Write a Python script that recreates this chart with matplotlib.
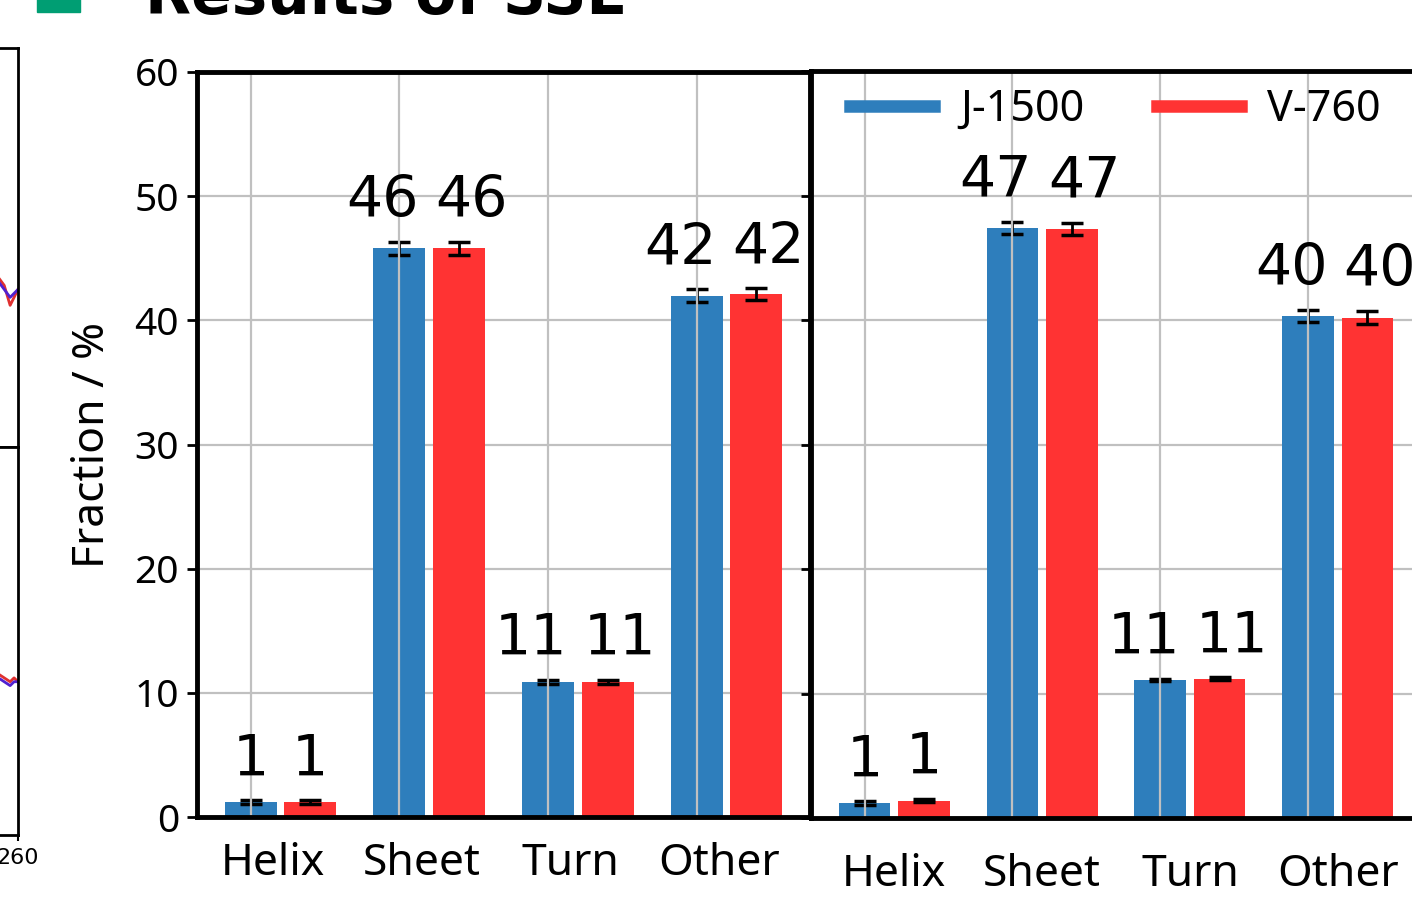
import matplotlib
matplotlib.use('Agg')
import matplotlib.pyplot as plt
import numpy as np
from matplotlib.lines import Line2D
from matplotlib.patches import Rectangle

plt.rcParams['font.family'] = ['Noto Sans', 'DejaVu Sans']

# ---------------- data ----------------
categories = ['Helix', 'Sheet', 'Turn', 'Other']
series_names = ['J-1500', 'V-760']

left_j1500 = [1.2, 45.8, 10.9, 42.0]
left_v760 = [1.2, 45.8, 10.9, 42.1]
left_j1500_err = [0.15, 0.5, 0.15, 0.5]
left_v760_err = [0.15, 0.5, 0.15, 0.5]

right_j1500 = [1.2, 47.4, 11.1, 40.3]
right_v760 = [1.4, 47.3, 11.2, 40.2]
right_j1500_err = [0.15, 0.5, 0.1, 0.5]
right_v760_err = [0.15, 0.5, 0.1, 0.5]

yticks = [0, 10, 20, 30, 40, 50, 60]
ylabel = 'Fraction / %'
title_text = 'Results of SSE'

# partial spectra visible at the left edge (cut off)
spec_wl = [250, 253, 256, 258, 260]
spec_top_a = [0.3, 0.1, -0.4, -0.2, 0.0]
spec_top_b = [0.2, 0.0, -0.2, -0.1, 0.0]
spec_bot_a = [0.2, 0.1, 0.0, 0.1, 0.0]
spec_bot_b = [0.1, 0.0, -0.1, 0.0, 0.0]

BLUE = '#2E7EBC'
RED = '#FF3333'
GRID = '#c0c0c0'

W, H = 1412, 901
fig = plt.figure(figsize=(W / 100, H / 100), dpi=100)


def fx(px):
    return px / W


def fy(py):
    return 1 - py / H


def draw_panel(ax, j, v, je, ve, show_ylabels, xlabel_pad, label_shift):
    x = np.arange(len(categories))
    width = 0.35
    off = 0.4
    ekw = dict(elinewidth=2.0, capthick=2.5, ecolor='black')
    ax.bar(x, j, width, yerr=je, color=BLUE, capsize=8, error_kw=ekw,
           zorder=2, label=series_names[0])
    ax.bar(x + off, v, width, yerr=ve, color=RED, capsize=8, error_kw=ekw,
           zorder=2, label=series_names[1])
    ax.set_ylim(yticks[0], yticks[-1])
    ax.set_yticks(yticks)
    ax.yaxis.grid(True, color=GRID, lw=1.6)
    ax.set_axisbelow(True)
    ax.vlines(x, yticks[0], yticks[-1], colors=GRID, lw=1.6, zorder=2.5)
    ax.set_xticks(x + off / 2 + label_shift)
    ax.set_xticklabels(categories, fontsize=32)
    ax.tick_params(axis='x', length=0, pad=xlabel_pad)
    ax.tick_params(axis='y', length=7, width=2, labelsize=28, pad=6,
                   labelleft=show_ylabels)
    for s in ax.spines.values():
        s.set_linewidth(3.5)
    for xs, vals, errs, dx in ((x, j, je, -12), (x + off, v, ve, 9)):
        for xc, val, e in zip(xs, vals, errs):
            lab = f'{val:.0f}'
            shift = dx if len(lab) > 1 else 0
            ax.annotate(lab, xy=(xc, val + e), xytext=(shift, 18),
                        textcoords='offset points', ha='center',
                        va='baseline', fontsize=41, family='DejaVu Sans',
                        zorder=4)


# left panel
ax1 = fig.add_axes([fx(197), fy(817), fx(810) - fx(197), fy(72) - fy(817)])
draw_panel(ax1, left_j1500, left_v760, left_j1500_err, left_v760_err,
           True, 18, -0.05)
ax1.set_ylabel(ylabel, fontsize=32, labelpad=14)

# right panel (extends beyond the image edge)
ax2 = fig.add_axes([fx(811), fy(818), fx(1421) - fx(811), fy(71) - fy(818)])
draw_panel(ax2, right_j1500, right_v760, right_j1500_err, right_v760_err,
           False, 25, 0.0)
handles = [Line2D([0], [0], color=BLUE, lw=9), Line2D([0], [0], color=RED, lw=9)]
ax2.legend(handles, series_names, loc='upper left', ncol=2, frameon=False,
           fontsize=31, handlelength=1.95, handletextpad=0.6,
           columnspacing=1.7, borderaxespad=0.0, bbox_to_anchor=(0.036, 1.0))

# cut-off spectra panels on the far left
axa = fig.add_axes([fx(-100), fy(447), fx(18) - fx(-100), fy(48) - fy(447)])
axb = fig.add_axes([fx(-100), fy(835), fx(18) - fx(-100), fy(447) - fy(835)])
for axx, a, b in ((axa, spec_top_a, spec_top_b), (axb, spec_bot_a, spec_bot_b)):
    axx.plot(spec_wl, a, color='#e03030', lw=2)
    axx.plot(spec_wl, b, color='#5020d0', lw=2)
    axx.set_xlim(200, 260)
    axx.set_ylim(-3.95, 6.05)
    axx.set_yticks([])
    for s in axx.spines.values():
        s.set_linewidth(2)
axa.set_xticks([])
axb.set_xticks([260])
axb.set_xticklabels(['260'], fontsize=16, family='DejaVu Sans')
axb.tick_params(axis='x', length=4, width=1.5, pad=5)

# cut-off slide title and bullet
fig.text(fx(145), fy(14), title_text, fontsize=43, weight='bold',
         family='DejaVu Sans', va='baseline', ha='left')
fig.patches.append(Rectangle((fx(37), fy(12)), fx(80) - fx(37), fy(0) - fy(12) + 0.02,
                             transform=fig.transFigure, color='#009E73'))

fig.savefig('out.png', dpi=100)
